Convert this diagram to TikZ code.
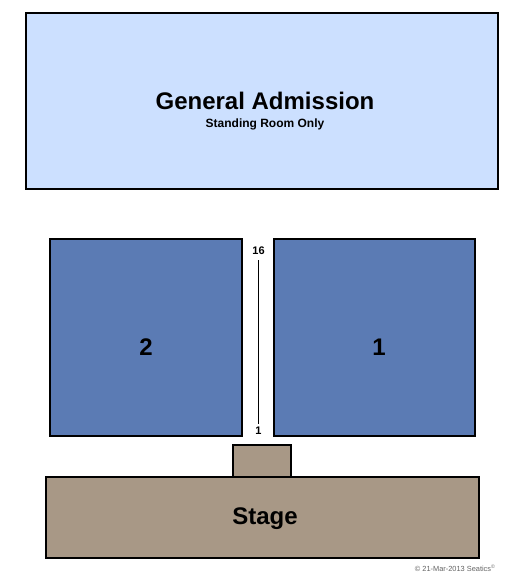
\documentclass[tikz,border=0pt]{standalone}
\usepackage{fontspec}
\setmainfont{Liberation Sans}
\definecolor{gafill}{RGB}{204,224,255}
\definecolor{secfill}{RGB}{91,123,180}
\definecolor{stagefill}{RGB}{168,152,134}
\definecolor{cpgray}{RGB}{100,100,100}
\begin{document}
\begin{tikzpicture}[x=1pt,y=-1pt,
  box/.style={draw=black,line width=1.4pt},
  big/.style={font=\fontsize{24}{26}\selectfont\bfseries},
  med/.style={font=\fontsize{12}{13}\selectfont\bfseries},
  small/.style={font=\fontsize{11}{12}\selectfont\bfseries},
  tiny/.style={font=\fontsize{7.4}{8}\selectfont,text=cpgray}]
\useasboundingbox (0,0) rectangle (525,575);
\fill[white] (0,0) rectangle (525,575);
% General admission
\draw[box,fill=gafill] (26,13) rectangle (498,189);
\node[big] (ga) at (265,101) {General Admission};
\node[med] (sro) at (265,124) {Standing Room Only};
% sections
\draw[box,fill=secfill] (50,239) rectangle (242,436);
\node[big] (s2) at (146,347) {2};
\draw[box,fill=secfill] (274,239) rectangle (475,436);
\node[big] (s1) at (379,347) {1};
% aisle
\node[small] (r16) at (258.5,251) {16};
\node[small] (r1) at (258.5,431) {1};
\coordinate (at) at (258.5,260);
\coordinate (ab) at (258.5,424);
\draw[line width=1.1pt] (at) -- (ab);
% stage
\draw[box,fill=stagefill] (233,445) rectangle (291,477);
\draw[box,fill=stagefill] (46,477) rectangle (479,558);
\node[big] (stage) at (265,519) {Stage};
% copyright
\node[tiny,anchor=east] (cp) at (499,568) {© 21-Mar-2013 Seatics\textsuperscript{©}};
\end{tikzpicture}
\end{document}
